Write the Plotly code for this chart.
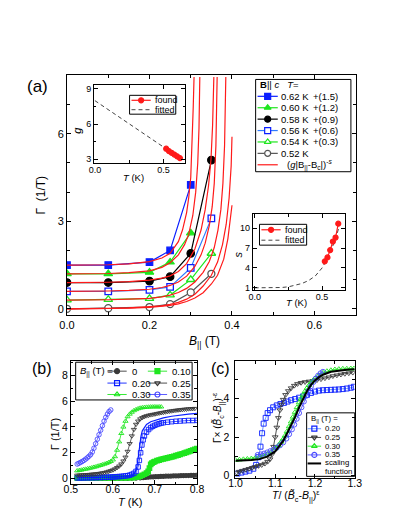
import plotly.graph_objects as go

W, H = 399, 516
FONT = "Liberation Sans, Arial, sans-serif"

# ---------------- panel (a): Gamma vs B|| ----------------
a_B = [0.0, 0.1, 0.2, 0.25, 0.3, 0.35]
a_G062 = [1.5, 1.5, 1.6, 2.0, 4.25]
a_G060 = [1.2, 1.2, 1.25, 1.6, 2.6]
a_G058 = [0.9, 0.9, 0.95, 1.1, 1.9, 5.1]
a_G056 = [0.6, 0.6, 0.65, 0.75, 1.4, 3.1]
a_G054 = [0.3, 0.32, 0.35, 0.47, 1.0, 1.9]
a_G052 = [0.0, 0.02, 0.06, 0.16, 0.56, 1.2]

# fitted curves (g|B-Bc|)^-s
fit062_B = [0, 0.05, 0.1, 0.15, 0.2, 0.23, 0.25, 0.27, 0.28, 0.29, 0.295, 0.30, 0.303, 0.306, 0.308]
fit062_G = [1.5, 1.5, 1.51, 1.54, 1.62, 1.74, 1.9, 2.3, 2.7, 3.3, 3.8, 4.5, 5.5, 6.9, 7.95]
fit060_B = [0, 0.05, 0.1, 0.15, 0.2, 0.23, 0.25, 0.27, 0.285, 0.295, 0.305, 0.312, 0.317, 0.32, 0.322]
fit060_G = [1.2, 1.2, 1.21, 1.24, 1.3, 1.42, 1.58, 1.85, 2.2, 2.55, 3.2, 4.0, 5.0, 6.2, 7.95]
fit058_B = [0, 0.05, 0.1, 0.15, 0.2, 0.23, 0.25, 0.27, 0.29, 0.31, 0.325, 0.335, 0.343, 0.349, 0.353, 0.356]
fit058_G = [0.9, 0.9, 0.91, 0.93, 0.98, 1.05, 1.13, 1.28, 1.55, 2.05, 2.7, 3.4, 4.2, 5.1, 6.3, 7.95]
fit056_B = [0, 0.05, 0.1, 0.15, 0.2, 0.23, 0.25, 0.27, 0.29, 0.31, 0.325, 0.335, 0.345, 0.352, 0.357, 0.361, 0.364]
fit056_G = [0.6, 0.6, 0.61, 0.63, 0.67, 0.73, 0.8, 0.92, 1.12, 1.45, 1.85, 2.25, 2.85, 3.5, 4.3, 5.6, 7.95]
fit054_B = [0, 0.05, 0.1, 0.15, 0.2, 0.23, 0.25, 0.27, 0.29, 0.31, 0.33, 0.345, 0.357, 0.366, 0.373, 0.378, 0.382, 0.385]
fit054_G = [0.3, 0.3, 0.31, 0.33, 0.36, 0.41, 0.47, 0.56, 0.7, 0.92, 1.25, 1.62, 2.1, 2.7, 3.4, 4.3, 5.6, 7.95]
fit052_B = [0, 0.05, 0.1, 0.15, 0.2, 0.23, 0.25, 0.27, 0.29, 0.31, 0.33, 0.35, 0.365, 0.377, 0.386, 0.393, 0.398, 0.40]
fit052_G = [0.0, 0.0, 0.01, 0.03, 0.06, 0.1, 0.15, 0.22, 0.33, 0.5, 0.78, 1.15, 1.6, 2.2, 2.9, 3.8, 4.9, 5.9]
fit050_B = [0, 0.05, 0.1, 0.15, 0.2, 0.23, 0.25, 0.27, 0.29, 0.31, 0.33, 0.35, 0.365, 0.38, 0.39, 0.40]
fit050_G = [0.0, 0.0, 0.005, 0.02, 0.05, 0.08, 0.12, 0.17, 0.25, 0.37, 0.55, 0.85, 1.15, 1.7, 2.4, 3.55]

# inset g(T)
g_T = [0.52, 0.54, 0.56, 0.58, 0.60, 0.62]
g_found = [3.9, 3.7, 3.55, 3.4, 3.25, 3.1]
g_fitT = [0.0, 0.625]
g_fit = [8.0, 3.06]

# inset s(T)
s_T = [0.52, 0.54, 0.56, 0.58, 0.60, 0.62]
s_found = [5.0, 5.6, 6.7, 8.0, 8.6, 10.7]
s_fitT = [0, 0.1, 0.2, 0.25, 0.3, 0.35, 0.4, 0.45, 0.5, 0.55, 0.6, 0.64]
s_fit = [1.0, 1.0, 1.05, 1.15, 1.35, 1.65, 2.1, 2.8, 4.0, 5.8, 8.4, 11.2]

# ---------------- panel (b): Gamma vs T ----------------
b_T0 = [0.515, 0.525, 0.535, 0.545, 0.555, 0.565, 0.575, 0.585, 0.595, 0.605, 0.615, 0.625, 0.635, 0.645,
        0.655, 0.665, 0.672, 0.678, 0.684, 0.69, 0.696, 0.702, 0.708, 0.714, 0.72, 0.726, 0.732, 0.738,
        0.744, 0.75, 0.756, 0.762, 0.768, 0.774, 0.78, 0.786, 0.792, 0.798]
b_G0 = [0.0, 0.0, 0.0, 0.0, 0.0, 0.0, 0.0, 0.0, 0.0, 0.0, 0.0, 0.01, 0.01, 0.02, 0.03, 0.04, 0.06, 0.08,
        0.1, 0.12, 0.13, 0.14, 0.15, 0.16, 0.17, 0.18, 0.18, 0.19, 0.2, 0.2, 0.21, 0.22, 0.22, 0.23, 0.23,
        0.24, 0.24, 0.25]
b_T10 = [0.515, 0.525, 0.535, 0.545, 0.555, 0.565, 0.575, 0.585, 0.595, 0.605, 0.615, 0.625, 0.635,
         0.645, 0.65, 0.655, 0.66, 0.665, 0.67, 0.675, 0.68, 0.684, 0.687, 0.69, 0.693, 0.697, 0.70,
         0.705, 0.71, 0.715, 0.72, 0.725, 0.73, 0.735, 0.74, 0.745, 0.75, 0.755, 0.76, 0.765, 0.77,
         0.775, 0.78, 0.785, 0.79, 0.795, 0.80]
b_G10 = [0.05, 0.05, 0.05, 0.05, 0.05, 0.05, 0.05, 0.05, 0.05, 0.05, 0.05, 0.05, 0.05, 0.06, 0.08, 0.1,
         0.13, 0.18, 0.25, 0.33, 0.42, 0.55, 0.8, 1.1, 1.2, 1.27, 1.32, 1.38, 1.43, 1.48, 1.52, 1.56,
         1.6, 1.64, 1.68, 1.72, 1.77, 1.82, 1.87, 1.92, 1.97, 2.02, 2.08, 2.14, 2.2, 2.26, 2.32]
b_T20 = [0.515, 0.52, 0.525, 0.53, 0.535, 0.54, 0.545, 0.55, 0.555, 0.56, 0.565, 0.57, 0.575, 0.58,
         0.585, 0.59, 0.595, 0.60, 0.605, 0.61, 0.615, 0.62, 0.625, 0.63, 0.635, 0.64, 0.645, 0.65,
         0.655, 0.66, 0.663, 0.666, 0.669, 0.672, 0.675, 0.68, 0.685, 0.69, 0.695, 0.70, 0.705, 0.71,
         0.715, 0.72, 0.73, 0.74, 0.75, 0.76, 0.77, 0.78, 0.79, 0.80]
b_G20 = [0.05, 0.05, 0.05, 0.05, 0.06, 0.06, 0.06, 0.07, 0.07, 0.07, 0.08, 0.08, 0.09, 0.09, 0.1, 0.1,
         0.11, 0.12, 0.13, 0.14, 0.15, 0.16, 0.18, 0.2, 0.22, 0.26, 0.32, 0.4, 0.55, 0.9, 1.4, 2.0, 2.6,
         3.0, 3.3, 3.6, 3.8, 3.95, 4.05, 4.13, 4.2, 4.25, 4.3, 4.33, 4.37, 4.41, 4.44, 4.46, 4.48, 4.5,
         4.5, 4.51]
b_Tline = [0.515, 0.55, 0.6, 0.63, 0.645, 0.652, 0.657, 0.661, 0.664, 0.667, 0.67, 0.675, 0.68, 0.69,
           0.70, 0.72, 0.74, 0.76, 0.78, 0.80]
b_Gline = [0.08, 0.08, 0.1, 0.14, 0.22, 0.4, 0.9, 1.8, 2.7, 3.3, 3.7, 4.0, 4.2, 4.4, 4.52, 4.7, 4.83,
           4.93, 5.0, 5.06]
b_T25 = [0.515, 0.52, 0.525, 0.53, 0.535, 0.54, 0.545, 0.55, 0.555, 0.56, 0.565, 0.57, 0.575, 0.58,
         0.585, 0.59, 0.595, 0.60, 0.605, 0.61, 0.615, 0.62, 0.625, 0.63, 0.635, 0.64, 0.645, 0.65,
         0.655, 0.66, 0.665, 0.67, 0.675, 0.68, 0.685, 0.69, 0.695, 0.70, 0.705, 0.71, 0.715, 0.72,
         0.725, 0.73, 0.735, 0.74, 0.745, 0.75, 0.755, 0.76, 0.765, 0.77, 0.775, 0.78, 0.785, 0.79, 0.795]
b_G25 = [0.25, 0.26, 0.27, 0.28, 0.29, 0.30, 0.31, 0.33, 0.34, 0.36, 0.38, 0.40, 0.43, 0.46, 0.50, 0.55,
         0.60, 0.66, 0.74, 0.84, 0.96, 1.12, 1.35, 1.65, 2.1, 2.7, 3.3, 3.8, 4.2, 4.45, 4.62, 4.72, 4.8,
         4.86, 4.9, 4.94, 4.97, 5.0, 5.04, 5.07, 5.1, 5.13, 5.16, 5.19, 5.22, 5.24, 5.27, 5.29, 5.31,
         5.33, 5.35, 5.37, 5.38, 5.4, 5.41, 5.42, 5.43]
b_T30 = [0.515, 0.52, 0.525, 0.53, 0.535, 0.54, 0.545, 0.55, 0.555, 0.56, 0.565, 0.57, 0.575, 0.58,
         0.585, 0.59, 0.595, 0.60, 0.605, 0.61, 0.615, 0.62, 0.625, 0.63, 0.635, 0.64, 0.645, 0.65,
         0.655, 0.66, 0.665, 0.67, 0.675, 0.68, 0.685, 0.69, 0.695, 0.70, 0.705, 0.71, 0.715]
b_G30 = [0.60, 0.63, 0.66, 0.70, 0.73, 0.76, 0.80, 0.84, 0.88, 0.92, 0.97, 1.02, 1.07, 1.12, 1.18, 1.25,
         1.33, 1.45, 1.70, 2.2, 2.85, 3.5, 4.0, 4.45, 4.8, 5.0, 5.15, 5.27, 5.35, 5.42, 5.47, 5.5, 5.52,
         5.54, 5.55, 5.56, 5.56, 5.57, 5.56, 5.57, 5.56]
b_T35 = [0.515, 0.519, 0.523, 0.527, 0.531, 0.535, 0.539, 0.543, 0.547, 0.551, 0.555, 0.559, 0.563,
         0.567, 0.571, 0.575, 0.579, 0.583, 0.587, 0.591, 0.595]
b_G35 = [1.12, 1.18, 1.25, 1.32, 1.40, 1.50, 1.60, 1.72, 1.85, 2.05, 2.35, 2.70, 3.05, 3.40, 3.75, 4.10,
         4.45, 4.75, 5.00, 5.20, 5.32]

# ---------------- panel (c): scaled Gamma ----------------
c_X20 = [1.005, 1.015, 1.025, 1.035, 1.045, 1.052, 1.058, 1.063, 1.067, 1.071, 1.076, 1.081, 1.087, 1.095,
         1.104, 1.113, 1.122, 1.131, 1.14, 1.15, 1.16, 1.17, 1.18, 1.19, 1.2, 1.21, 1.22, 1.23, 1.24, 1.25,
         1.26, 1.27, 1.28, 1.29, 1.298]
c_Y20 = [0.1, 0.15, 0.2, 0.25, 0.35, 0.55, 0.95, 1.5, 2.2, 2.7, 3.0, 3.25, 3.4, 3.55, 3.65, 3.72, 3.78,
         3.85, 3.92, 3.98, 4.05, 4.12, 4.2, 4.3, 4.37, 4.42, 4.44, 4.45, 4.46, 4.47, 4.48, 4.5, 4.53, 4.57, 4.62]
c_X25 = [1.003, 1.01, 1.018, 1.026, 1.034, 1.042, 1.05, 1.058, 1.066, 1.074, 1.081, 1.087, 1.092, 1.096,
         1.1, 1.104, 1.108, 1.112, 1.116, 1.12, 1.126, 1.133, 1.14, 1.148, 1.156, 1.165, 1.175, 1.185,
         1.195, 1.205, 1.215, 1.225, 1.235, 1.245, 1.255, 1.265, 1.275, 1.285, 1.295]
c_Y25 = [0.15, 0.2, 0.25, 0.3, 0.35, 0.4, 0.45, 0.5, 0.55, 0.62, 0.72, 0.85, 1.1, 1.5, 2.0, 2.5, 3.0, 3.4,
         3.7, 3.95, 4.2, 4.4, 4.55, 4.68, 4.77, 4.83, 4.87, 4.9, 4.93, 4.97, 5.02, 5.07, 5.12, 5.18, 5.22,
         5.26, 5.3, 5.33, 5.36]
c_X30 = [1.0, 1.01, 1.02, 1.03, 1.04, 1.05, 1.06, 1.07, 1.08, 1.09, 1.1, 1.108, 1.115, 1.12, 1.125, 1.13,
         1.135, 1.14, 1.145, 1.15, 1.155, 1.16, 1.165, 1.17, 1.175, 1.18, 1.185, 1.19, 1.195, 1.2, 1.21,
         1.22, 1.23, 1.24, 1.25, 1.26, 1.27, 1.28, 1.29, 1.298]
c_Y30 = [0.8, 0.82, 0.84, 0.86, 0.88, 0.92, 0.97, 1.03, 1.12, 1.24, 1.4, 1.57, 1.75, 1.9, 2.08, 2.3, 2.55,
         2.8, 3.05, 3.3, 3.55, 3.8, 4.0, 4.2, 4.38, 4.55, 4.7, 4.83, 4.95, 5.05, 5.22, 5.35, 5.43, 5.48,
         5.52, 5.54, 5.56, 5.56, 5.57, 5.57]
c_X35 = [1.056, 1.064, 1.072, 1.08, 1.088, 1.096, 1.104, 1.112, 1.12, 1.128, 1.135, 1.142, 1.148, 1.154,
         1.16, 1.166, 1.172, 1.178, 1.184, 1.19, 1.196, 1.202, 1.208, 1.214, 1.22]
c_Y35 = [1.07, 1.1, 1.14, 1.2, 1.27, 1.35, 1.45, 1.57, 1.72, 1.92, 2.15, 2.4, 2.65, 2.95, 3.25, 3.55,
         3.85, 4.15, 4.4, 4.65, 4.87, 5.05, 5.2, 5.32, 5.4]
c_Xsc = [1.0, 1.02, 1.04, 1.06, 1.08, 1.1, 1.11, 1.12, 1.13, 1.14, 1.15, 1.16, 1.17, 1.18, 1.19, 1.2,
         1.21, 1.22, 1.24, 1.26, 1.28, 1.3]
c_Ysc = [0.77, 0.78, 0.8, 0.85, 0.98, 1.25, 1.5, 1.8, 2.2, 2.6, 3.05, 3.55, 4.0, 4.4, 4.72, 4.95, 5.12,
         5.25, 5.4, 5.47, 5.51, 5.53]

# ---------------- colours ----------------
BLUE = "#0a1eff"
BLUE2 = "#2f7bff"
GREEN = "#1ee61e"
GRAY = "#555555"
RED = "#ff1a1a"
DGRAY = "#3a3a3a"
VIOLET = "#4848ff"
LBLUE = "#5a8cff"

fig = go.Figure()


def dom_x(p0, p1):
    return [p0 / W, p1 / W]


def dom_y(top, bottom):
    return [1 - bottom / H, 1 - top / H]


def sc(x, y, ax, color, mode="lines+markers", symbol="circle", size=6, fill=None, lw=1.2, mlw=1.2,
       dash="solid", mcolor=None):
    mc = mcolor if mcolor else color
    marker = dict(symbol=symbol, size=size, color=fill if fill else mc, line=dict(color=mc, width=mlw))
    fig.add_trace(go.Scatter(x=x, y=y, mode=mode, xaxis="x" + ax, yaxis="y" + ax,
                             line=dict(color=color, width=lw, dash=dash), marker=marker,
                             showlegend=False, hoverinfo="skip"))


# panel (a) data
sc(a_B[:5], a_G062, "", BLUE, symbol="square", size=6.5)
sc(a_B[:5], a_G060, "", GREEN, symbol="triangle-up", size=7.5)
sc(a_B, a_G058, "", "black", symbol="circle", size=7.5)
sc(a_B, a_G056, "", BLUE2, symbol="square", size=6.5, fill="white", mlw=1.3, mcolor=BLUE)
sc(a_B, a_G054, "", GREEN, symbol="triangle-up", size=7.5, fill="white", mlw=1.3)
sc(a_B, a_G052, "", GRAY, symbol="circle", size=7, fill="white", mlw=1.3)
for fb, fg in [(fit062_B, fit062_G), (fit060_B, fit060_G), (fit058_B, fit058_G), (fit056_B, fit056_G),
               (fit054_B, fit054_G), (fit052_B, fit052_G), (fit050_B, fit050_G)]:
    sc(fb, fg, "", RED, mode="lines", lw=1.2)

# inset g
sc(g_fitT, g_fit, "2", "#444444", mode="lines", lw=1, dash="4px,3px")
sc(g_T, g_found, "2", RED, symbol="circle", size=5, lw=1.2)
# inset s
sc(s_fitT, s_fit, "3", "#444444", mode="lines", lw=1, dash="4px,3px")
sc(s_T, s_found, "3", RED, symbol="circle", size=5, lw=1.2)

# panel (b)
sc(b_T0, b_G0, "4", DGRAY, symbol="circle", size=4, lw=0.8)
sc(b_T10, b_G10, "4", GREEN, symbol="square", size=4.5, lw=0.8)
sc(b_T20, b_G20, "4", BLUE, symbol="square-open", size=4.5, lw=0.8, mlw=0.9)
sc(b_Tline, b_Gline, "4", BLUE, mode="lines", lw=1.2)
sc(b_T25, b_G25, "4", DGRAY, symbol="triangle-down-open", size=4.5, lw=0.8, mlw=0.9)
sc(b_T30, b_G30, "4", GREEN, symbol="triangle-up-open", size=4.5, lw=0.8, mlw=0.9)
sc(b_T35, b_G35, "4", VIOLET, symbol="circle-open", size=4.5, lw=0.8, mlw=0.9)

# panel (c)
sc(c_X20, c_Y20, "5", LBLUE, symbol="square-open", size=5, lw=0.9, mlw=0.9, mcolor=BLUE)
sc(c_X25, c_Y25, "5", DGRAY, symbol="triangle-down-open", size=5, lw=0.9, mlw=0.9)
sc(c_X30, c_Y30, "5", GREEN, symbol="triangle-up-open", size=5, lw=0.9, mlw=0.9)
sc(c_X35, c_Y35, "5", VIOLET, symbol="circle-open", size=5, lw=0.9, mlw=0.9)
sc(c_Xsc, c_Ysc, "5", "black", mode="lines", lw=2)

# ---------------- hand-built legends (glyphs on a pixel-space overlay axis) ----------------
shapes = []
annotations = []


def ann(text, px, py, size, xanchor="center", angle=0, color="black", pad=1):
    annotations.append(dict(text=text, x=px / W, y=1 - py / H, xref="paper", yref="paper",
                            xanchor=xanchor, yanchor="middle", showarrow=False, textangle=angle,
                            borderpad=pad, font=dict(size=size, color=color, family=FONT)))


def box(x0, y0, x1, y1):
    shapes.append(dict(type="rect", xref="paper", yref="paper", x0=x0 / W, x1=x1 / W,
                       y0=1 - y1 / H, y1=1 - y0 / H, line=dict(color="black", width=1),
                       fillcolor="white", layer="below"))


def glyph(x0, x1, y, color, symbol=None, size=6, fill=None, lw=1.2, dash="solid", mcolor=None):
    fig.add_trace(go.Scatter(x=[x0, x1], y=[y, y], mode="lines", xaxis="x6", yaxis="y6",
                             line=dict(color=color, width=lw, dash=dash), showlegend=False,
                             hoverinfo="skip"))
    if symbol:
        mc = mcolor if mcolor else color
        fig.add_trace(go.Scatter(x=[(x0 + x1) / 2], y=[y], mode="markers", xaxis="x6", yaxis="y6",
                                 marker=dict(symbol=symbol, size=size, color=fill if fill else mc,
                                             line=dict(color=mc, width=1.2)),
                                 showlegend=False, hoverinfo="skip"))


# legend (a)
box(249, 71, 348, 164)
ann("<b>B</b>|| <i>c</i>   <i>T</i>=", 251, 76, 9.5, "left")
a_leg = [("0.62 K", "+(1.5)", BLUE, "square", None, None),
         ("0.60 K", "+(1.2)", GREEN, "triangle-up", None, None),
         ("0.58 K", "+(0.9)", "black", "circle", None, None),
         ("0.56 K", "+(0.6)", BLUE2, "square", "white", BLUE),
         ("0.54 K", "+(0.3)", GREEN, "triangle-up", "white", None),
         ("0.52 K", "", GRAY, "circle", "white", None)]
for i, (t1, t2, col, sym, fill, mc) in enumerate(a_leg):
    yy = 88 + i * 11.5
    glyph(251, 272, yy, col, sym, size=6, fill=fill, mcolor=mc)
    ann(t1, 273, yy, 9.5, "left")
    if t2:
        ann(t2, 307, yy, 9.5, "left")
glyph(251, 272, 157, RED)
ann("(<i>g</i>|B<sub>||</sub>-B<sub>c</sub>|)<sup>-<i>s</i></sup>", 279, 157, 9.5, "left")

# legend inset g
box(118, 87, 166, 106)
glyph(120, 140, 92, RED, "circle", size=5)
ann("found", 143, 92, 9, "left", pad=0)
glyph(120, 140, 101.5, "#444444", lw=1, dash="4px,3px")
ann("fitted", 143, 101.5, 9, "left", pad=0)

# legend inset s
box(253, 217, 302, 238)
glyph(255, 275, 222.5, RED, "circle", size=5)
ann("found", 278, 222.5, 9, "left", pad=0)
glyph(255, 275, 233, "#444444", lw=1, dash="4px,3px")
ann("fitted", 278, 233, 9, "left", pad=0)

# legend (b)
box(62, 356, 183, 394)
ann("<i>B</i><sub>||</sub> (T) =", 64, 365, 9.5, "left")
b_leg = [(0, 0, "0", DGRAY, "circle"), (0, 1, "0.10", GREEN, "square"),
         (1, 0, "0.20", BLUE, "square-open"), (1, 1, "0.25", DGRAY, "triangle-down-open"),
         (2, 0, "0.30", GREEN, "triangle-up-open"), (2, 1, "0.35", VIOLET, "circle-open")]
for r, cidx, txt, col, sym in b_leg:
    yy = [365, 377, 388.5][r]
    x0 = [95, 137][cidx]
    glyph(x0, x0 + 20, yy, col, sym, size=5, lw=0.9)
    ann(txt, x0 + 23, yy, 9.5, "left")

# legend (c)
box(302, 407, 352, 471)
ann("B<sub>||</sub> (T) =", 306, 413.5, 7.8, "left", pad=0)
c_leg = [("0.20", LBLUE, "square-open", BLUE), ("0.25", DGRAY, "triangle-down-open", None),
         ("0.30", GREEN, "triangle-up-open", None), ("0.35", VIOLET, "circle-open", None)]
for i, (txt, col, sym, mc) in enumerate(c_leg):
    yy = 423 + i * 8.8
    glyph(303, 317, yy, col, sym, size=5, lw=0.9, mcolor=mc)
    ann(txt, 320, yy, 7.8, "left", pad=0)
glyph(303, 317, 458, "black", lw=2)
ann("scaling", 320, 457.5, 7.8, "left", pad=0)
ann("function", 320, 466.5, 7.8, "left", pad=0)

# panel labels and axis titles
ann("(a)", 22, 78, 17)
ann("(b)", 27, 362, 16)
ann("(c)", 212, 362, 16)
ann("Γ  (1/T)", 26, 188, 12, angle=-90)
ann("<i>B</i><sub>||</sub> (T)", 196, 336, 12)
ann("Γ (1/T)", 40, 428, 11, angle=-90)
ann("<i>T</i> (K)", 118, 497, 11)
ann("Γ× (<i>B̃</i><sub>c</sub>-<i>B</i><sub>||</sub>)<sup>-ε</sup>", 210, 412, 10, angle=-90)
ann("<i>T</i>/ (<i>B̃</i><sub>c</sub>-<i>B</i><sub>||</sub>)<sup>ε</sup>", 291, 491, 10.5)
ann("<i>g</i>", 63, 122, 11, angle=-90)
ann("<i>T</i> (K)", 122, 170, 9.5)
ann("<i>s</i>", 231, 247, 11, angle=-90)
ann("<i>T</i> (K)", 291, 296, 9.5)


def ax(domain, rng, size=10.5, minor=None, **kw):
    d = dict(domain=domain, range=rng, showline=True, linecolor="black", linewidth=1, mirror="ticks",
             ticks="inside", ticklen=4, tickwidth=1, tickcolor="black", showgrid=False, zeroline=False,
             tickfont=dict(size=size, color="black", family=FONT), fixedrange=True)
    if minor is not None:
        d["minor"] = dict(dtick=minor, ticks="inside", ticklen=2.5, tickcolor="black", showgrid=False)
    d.update(kw)
    return d


fig.update_layout(
    width=W, height=H, autosize=False, margin=dict(l=0, r=0, t=0, b=0),
    paper_bgcolor="white", plot_bgcolor="rgba(0,0,0,0)",
    font=dict(family=FONT, color="black"),
    xaxis=ax(dom_x(53, 353), [0, 0.7], 11, 0.1, anchor="y", dtick=0.2, tick0=0, tickformat=".1f"),
    yaxis=ax(dom_y(67, 308), [-0.2, 8], 11, 1, anchor="x", dtick=3, tick0=0),
    xaxis2=ax(dom_x(81, 176), [-0.007, 0.66], 9, 0.25, anchor="y2", dtick=0.5, tick0=0, tickformat=".1f",
              ticklabelstandoff=-2),
    yaxis2=ax(dom_y(77, 155), [2.7, 9.3], 9, 1.5, anchor="x2", tickvals=[3, 6, 9]),
    xaxis3=ax(dom_x(246, 342), [-0.014, 0.671], 9, 0.25, anchor="y3", dtick=0.5, tick0=0, tickformat=".1f",
              ticklabelstandoff=-2),
    yaxis3=ax(dom_y(207, 283), [0.7, 12.1], 9, None, anchor="x3", tickvals=[1, 4, 7, 10]),
    xaxis4=ax(dom_x(57, 188), [0.5, 0.8], 10.5, 0.05, anchor="y4", dtick=0.1, tick0=0.5, tickformat=".1f",
              ticklabelstandoff=-5),
    yaxis4=ax(dom_y(355, 479), [-0.45, 9.1], 10.5, 1, anchor="x4", dtick=2, tick0=0),
    xaxis5=ax(dom_x(228, 352), [1.0, 1.3], 10.5, 0.05, anchor="y5", dtick=0.1, tick0=1.0, tickformat=".1f",
              ticklabelstandoff=-5),
    yaxis5=ax(dom_y(355, 473), [-0.15, 5.95], 10.5, 1, anchor="x5", dtick=2, tick0=0, ticklabelstandoff=3),
    xaxis6=dict(domain=[0, 1], range=[0, W], visible=False, anchor="y6", fixedrange=True),
    yaxis6=dict(domain=[0, 1], range=[H, 0], visible=False, anchor="x6", fixedrange=True),
    shapes=shapes, annotations=annotations, showlegend=False,
)

fig.write_html("out.html")
